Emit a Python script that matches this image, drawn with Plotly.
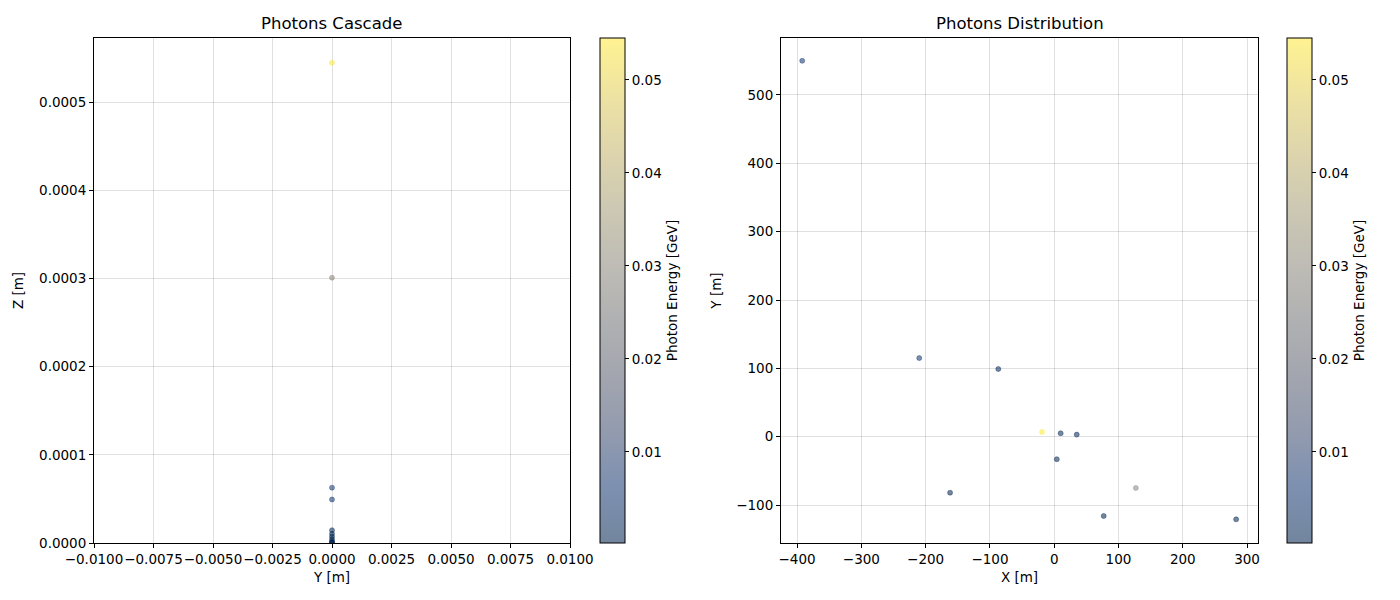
import plotly.graph_objects as go
from plotly.colors import sequential, hex_to_rgb

# energia dos fotons [GeV]
energia = [0.0545, 0.0301, 0.00628, 0.00494, 0.00145, 0.00105, 0.00075, 0.00045, 0.0003, 0.00022, 0.0002]

# cascata: Y e Z [m]
cascata_y = [0.0, 0.0, 0.0, 0.0, 0.0, 0.0, 0.0, 0.0, 0.0, 0.0, 0.0]
cascata_z = [0.000545, 0.000301, 0.0000628, 0.0000494, 0.0000145, 0.0000105, 0.0000075, 0.0000045, 0.000002, 0.0000008, 0.0000002]

# distribuicao: X e Y [m]
dist_x = [-19, 127, -392, -210, -87, 10, 35, 4, -162, 77, 283]
dist_y = [7, -75, 550, 115, 99, 5, 3, -33, -82, -116, -121]

cmin = 0.0002
cmax = 0.0545

# colormap cividis com transparencia
escala = []
n = len(sequential.Cividis)
for i, c in enumerate(sequential.Cividis):
    r, g, b = hex_to_rgb(c)
    escala.append([i / (n - 1), 'rgba(%d,%d,%d,0.55)' % (r, g, b)])

fonte = dict(family='DejaVu Sans', size=13.5, color='black')

# area do grafico: 1210 x 520 px (a pagina tem 8px de margem no body)
base_y = 0.01538
altura = 0.97115


def barra(x):
    return dict(
        x=x, xanchor='left', y=base_y, yanchor='bottom', len=altura, lenmode='fraction',
        thickness=25, thicknessmode='pixels', outlinewidth=1, outlinecolor='black',
        xpad=0, ypad=0,
        ticks='outside', ticklen=4, tickcolor='black', tickvals=[0.01, 0.02, 0.03, 0.04, 0.05],
        tickformat='.2f', tickfont=fonte,
        title=dict(text='Photon Energy [GeV]', side='right', font=fonte),
    )


def marcador(x_barra):
    return dict(
        size=5, color=energia, colorscale=escala, cmin=cmin, cmax=cmax,
        line=dict(width=0.7, color=energia, colorscale=escala, cmin=cmin, cmax=cmax),
        colorbar=barra(x_barra), showscale=True,
    )


fig = go.Figure()

fig.add_trace(go.Scatter(x=cascata_y, y=cascata_z, mode='markers', xaxis='x', yaxis='y',
                         marker=marcador(0.42066), showlegend=False))
fig.add_trace(go.Scatter(x=dist_x, y=dist_y, mode='markers', xaxis='x2', yaxis='y2',
                         marker=marcador(0.98843), showlegend=False))

eixo = dict(showline=True, linecolor='black', linewidth=1, mirror=True, ticks='outside',
            ticklen=4, tickcolor='black', showgrid=True, gridcolor='rgba(0,0,0,0.12)',
            zeroline=False, tickfont=fonte, title_font=fonte, title_standoff=6,
            tickangle=0, automargin=False)

titulo = dict(family='DejaVu Sans', size=16.5, color='black')

fig.update_layout(
    width=1400, height=600, margin=dict(l=83, r=107, t=23, b=57),
    plot_bgcolor='white', paper_bgcolor='white', font=fonte,
    xaxis=dict(eixo, domain=[0.00248, 0.39587], range=[-0.01, 0.01], dtick=0.0025,
               tickformat='.4f', title_text='Y [m]', anchor='y'),
    yaxis=dict(eixo, domain=[base_y, base_y + altura], range=[0, 0.000573], dtick=0.0001,
               tickformat='.4f', title_text='Z [m]', anchor='x', title_standoff=12),
    xaxis2=dict(eixo, domain=[0.57025, 0.96446], range=[-425, 317], dtick=100,
                title_text='X [m]', anchor='y2'),
    yaxis2=dict(eixo, domain=[base_y, base_y + altura], range=[-155.6, 583.4], dtick=100,
                title_text='Y [m]', anchor='x2', title_standoff=11),
    annotations=[
        dict(text='Photons Cascade', x=0.19917, y=0.992, xref='paper', yref='paper',
             xanchor='center', yanchor='bottom', showarrow=False, font=titulo),
        dict(text='Photons Distribution', x=0.76736, y=0.992, xref='paper', yref='paper',
             xanchor='center', yanchor='bottom', showarrow=False, font=titulo),
    ],
)

fig.write_html('out.html')
